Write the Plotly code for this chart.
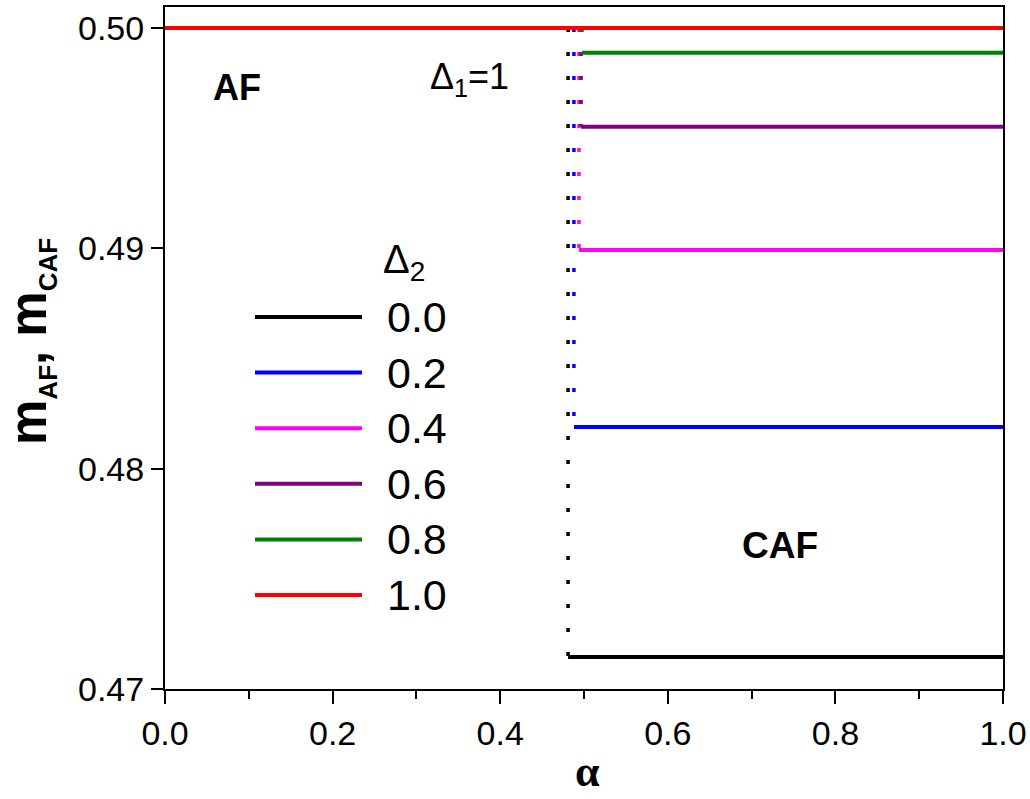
import plotly.graph_objects as go

# Δ2 values, colours, transition points α_c and CAF magnetisations
delta2 = [0.0, 0.2, 0.4, 0.6, 0.8, 1.0]
delta2_labels = ["0.0", "0.2", "0.4", "0.6", "0.8", "1.0"]
colors = ["#000000", "#0000FF", "#FF00FF", "#800080", "#008000", "#FF0000"]
alpha_c = [0.481, 0.488, 0.494, 0.4965, 0.4976, 0.500]
m_caf = [0.47145, 0.48189, 0.48992, 0.49551, 0.49887, 0.500]
m_af = 0.5
alpha_max = 1.0

x_ticks = [0.0, 0.2, 0.4, 0.6, 0.8, 1.0]
y_ticks = [0.47, 0.48, 0.49, 0.50]

FONT = "Liberation Sans, Arial, sans-serif"
LW = 4

fig = go.Figure()

# red (Δ2 = 1) comes last so it lies on top of the shared AF branch
for i in range(len(delta2)):
    c = colors[i]
    # AF branch (m = 0.5 below α_c)
    fig.add_trace(go.Scatter(x=[0.0, alpha_c[i]], y=[m_af, m_af], mode="lines",
                             line=dict(color=c, width=LW), showlegend=False,
                             hoverinfo="skip"))
    # jump at the transition
    if m_caf[i] < m_af:
        fig.add_trace(go.Scatter(x=[alpha_c[i], alpha_c[i]], y=[m_af, m_caf[i]],
                                 mode="lines",
                                 line=dict(color=c, width=3.5, dash="4px,20px"),
                                 showlegend=False, hoverinfo="skip"))
    # CAF branch
    fig.add_trace(go.Scatter(x=[alpha_c[i], alpha_max], y=[m_caf[i], m_caf[i]],
                             mode="lines", line=dict(color=c, width=LW),
                             showlegend=False, hoverinfo="skip"))

# page geometry used to place the in-plot legend and labels
ML, MR, MT, MB = 165, 27, 7, 110
W, H = 1030, 799
pw, ph = W - ML - MR, H - MT - MB

def px(x):
    return (x - ML) / pw

def py(y):
    return (H - MB - y) / ph

shapes = []
annotations = []
leg_top, leg_step = 317, 55.6
for i, lab in enumerate(delta2_labels):
    yc = leg_top + i * leg_step
    shapes.append(dict(type="line", xref="paper", yref="paper",
                       x0=px(255), x1=px(362), y0=py(yc), y1=py(yc),
                       line=dict(color=colors[i], width=LW)))
    annotations.append(dict(xref="paper", yref="paper", x=px(385), y=py(yc),
                            xanchor="left", yanchor="middle", showarrow=False,
                            text=lab, font=dict(family=FONT, size=43, color="black")))

annotations.append(dict(xref="paper", yref="paper", x=px(381), y=py(262),
                        xanchor="left", yanchor="middle", showarrow=False,
                        text="Δ<sub>2</sub>",
                        font=dict(family=FONT, size=40, color="black")))
annotations.append(dict(xref="paper", yref="paper", x=px(428), y=py(79),
                        xanchor="left", yanchor="middle", showarrow=False,
                        text="Δ<sub>1</sub>=1",
                        font=dict(family=FONT, size=36, color="black")))
annotations.append(dict(xref="paper", yref="paper", x=px(237), y=py(87),
                        xanchor="center", yanchor="middle", showarrow=False,
                        text="<b>AF</b>",
                        font=dict(family=FONT, size=36, color="black")))
annotations.append(dict(xref="paper", yref="paper", x=px(780), y=py(545),
                        xanchor="center", yanchor="middle", showarrow=False,
                        text="<b>CAF</b>",
                        font=dict(family=FONT, size=37, color="black")))
# axis titles
annotations.append(dict(xref="paper", yref="paper", x=px(587), y=py(798),
                        xanchor="center", yanchor="bottom", showarrow=False,
                        text="<b>α</b>",
                        font=dict(family="Liberation Serif, Times New Roman, serif",
                                  size=44, color="black")))
annotations.append(dict(xref="paper", yref="paper", x=px(31), y=py(342),
                        xanchor="center", yanchor="middle", showarrow=False,
                        textangle=-90,
                        text="<b>m<sub><span style='font-size:26px'>AF</span></sub>, "
                             "m<sub><span style='font-size:26px'>CAF</span></sub></b>",
                        font=dict(family=FONT, size=51, color="black")))

fig.update_layout(
    width=W, height=H,
    margin=dict(l=ML, r=MR, t=MT, b=MB, autoexpand=False),
    paper_bgcolor="white", plot_bgcolor="white",
    shapes=shapes, annotations=annotations,
    showlegend=False,
)
fig.update_xaxes(range=[0, 1], tickvals=x_ticks, tickformat=".1f",
                 showgrid=False, zeroline=False,
                 showline=True, linecolor="black", linewidth=2, mirror=True,
                 ticks="outside", ticklen=13, tickwidth=2, tickcolor="black",
                 minor=dict(dtick=0.1, ticks="outside", ticklen=8, tickwidth=2,
                            tickcolor="black", showgrid=False),
                 tickfont=dict(family=FONT, size=34, color="black"))
fig.update_yaxes(range=[0.47, 0.50095], tickvals=y_ticks, tickformat=".2f",
                 showgrid=False, zeroline=False,
                 showline=True, linecolor="black", linewidth=2, mirror=True,
                 ticks="outside", ticklen=12, tickwidth=2, tickcolor="black",
                 tickfont=dict(family=FONT, size=34, color="black"))

fig.write_html("out.html")
